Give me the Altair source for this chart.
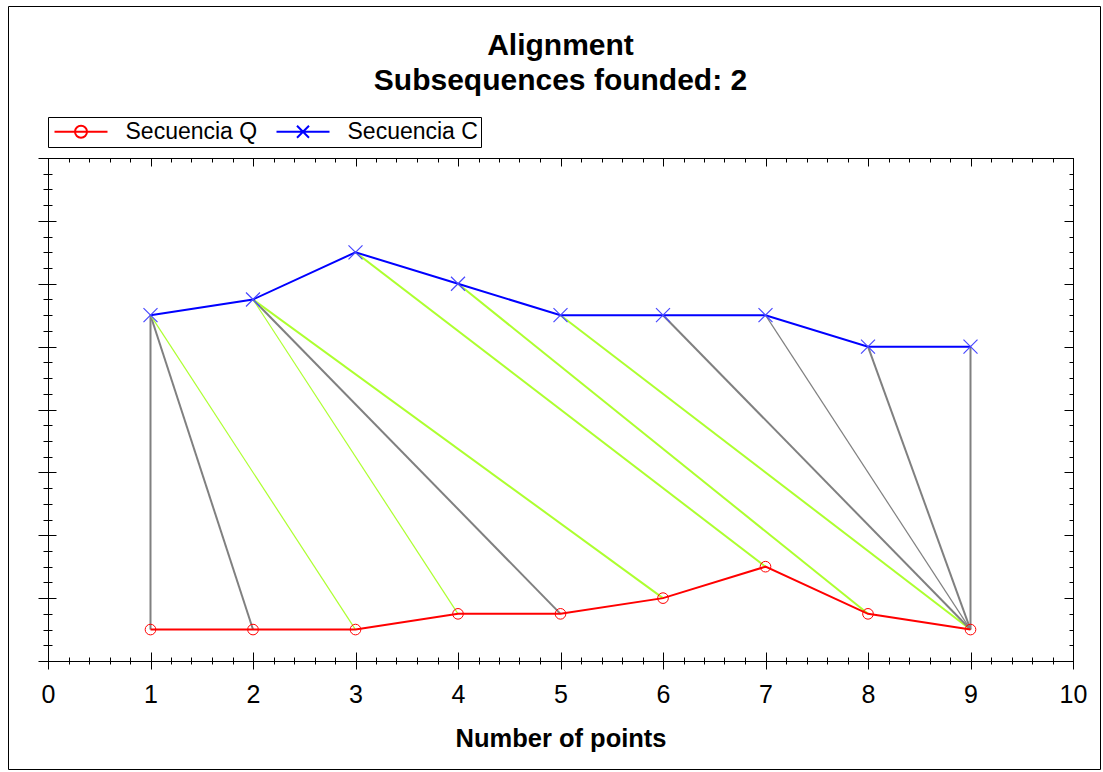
import altair as alt
import pandas as pd

# ---------------- data ----------------
x_points = [1, 2, 3, 4, 5, 6, 7, 8, 9]
q_values = [0.5, 0.5, 0.5, 0.75, 0.75, 1.0, 1.5, 0.75, 0.5]
c_values = [5.5, 5.75, 6.5, 6.0, 5.5, 5.5, 5.5, 5.0, 5.0]
series_names = ["Secuencia Q", "Secuencia C"]

# alignment (warping) pairs: point of C -> point of Q
align_c_idx = [1, 1, 1, 2, 2, 2, 3, 4, 5, 6, 7, 8, 9]
align_q_idx = [1, 2, 3, 4, 5, 6, 7, 8, 9, 9, 9, 9, 9]
align_colors = ["#808080", "#808080", "#adff2f", "#adff2f", "#808080", "#adff2f",
                "#adff2f", "#adff2f", "#adff2f", "#808080", "#808080", "#808080", "#808080"]
align_widths = [2, 2, 1.2, 1.2, 2, 2, 2, 2, 2, 2, 1.2, 2, 2]

x_major = [0, 1, 2, 3, 4, 5, 6, 7, 8, 9, 10]
x_minor = [round(i * 0.2, 1) for i in range(51)]
y_major = [0, 1, 2, 3, 4, 5, 6, 7, 8]
y_minor = [i * 0.25 for i in range(33)]

title_lines = ["Alignment", "Subsequences founded: 2"]
x_title = "Number of points"

# ---------------- tables ----------------
q_df = pd.DataFrame({"x": x_points, "v": q_values, "series": series_names[0]})
c_df = pd.DataFrame({"x": x_points, "v": c_values, "series": series_names[1]})
both_df = pd.concat([q_df, c_df], ignore_index=True)
align_df = pd.DataFrame({
    "x1": align_c_idx,
    "y1": [c_values[i - 1] for i in align_c_idx],
    "x2": align_q_idx,
    "y2": [q_values[i - 1] for i in align_q_idx],
    "col": align_colors,
    "w": align_widths,
})

W, H = 1025, 503
FONT = "Liberation Sans"
xs = alt.Scale(domain=[0, 10], nice=False, zero=False)
ys = alt.Scale(domain=[0, 8], nice=False, zero=False)


def ax(orient, values, size, offset=0, labels=False, title=None, **kw):
    args = dict(orient=orient, values=values, tickSize=size, offset=offset,
                labels=labels, grid=False, domain=False, tickColor="black",
                tickWidth=1, labelFlush=False)
    args["title"] = title
    args.update(kw)
    return alt.Axis(**args)


# x axes
ax_x_bottom_major = ax("bottom", x_major, 8, labels=True, title=x_title,
                       labelFont=FONT, labelFontSize=25, labelColor="black",
                       labelPadding=13, titleFont=FONT, titleFontSize=25.5,
                       titleFontWeight="bold", titleColor="black", titlePadding=19)
ax_x_bottom_minor = ax("bottom", x_minor, 3)
ax_x_bottom_in_major = ax("top", x_major, 9, offset=-H)
ax_x_bottom_in_minor = ax("top", x_minor, 4, offset=-H)
ax_x_top_in_major = ax("bottom", x_major, 8, offset=-H)
ax_x_top_in_minor = ax("bottom", x_minor, 4, offset=-H)
# y axes
ax_y_left_major = ax("left", y_major, 10)
ax_y_left_minor = ax("left", y_minor, 5)
ax_y_left_in_major = ax("right", y_major, 8, offset=-W)
ax_y_left_in_minor = ax("right", y_minor, 4, offset=-W)
ax_y_right_in_major = ax("left", y_major, 9, offset=-W)
ax_y_right_in_minor = ax("left", y_minor, 4, offset=-W)

# ---------------- layers ----------------
frame = alt.Chart(pd.DataFrame({"k": [0]})).mark_rect(
    fillOpacity=0, stroke="black", strokeWidth=1
).encode(x=alt.value(-39.5), x2=alt.value(1052.5), y=alt.value(-151.5), y2=alt.value(611.5))

rules = alt.Chart(align_df).mark_rule().encode(
    x=alt.X("x1:Q", scale=xs, axis=ax_x_bottom_major),
    y=alt.Y("y1:Q", scale=ys, axis=ax_y_left_major),
    x2="x2:Q",
    y2="y2:Q",
    color=alt.Color("col:N", scale=None),
    strokeWidth=alt.StrokeWidth("w:Q", scale=None),
)

line_q = alt.Chart(q_df).mark_line(color="#ff0000", strokeWidth=2).encode(
    x=alt.X("x:Q", scale=xs, axis=ax_x_bottom_minor),
    y=alt.Y("v:Q", scale=ys, axis=ax_y_left_minor),
)
line_c = alt.Chart(c_df).mark_line(color="#0000ff", strokeWidth=2).encode(
    x=alt.X("x:Q", scale=xs, axis=ax_x_bottom_in_major),
    y=alt.Y("v:Q", scale=ys, axis=ax_y_left_in_major),
)

X_PATH = "M-1,-1L1,1M-1,1L1,-1"
mark_q = alt.Chart(q_df).mark_point(shape="circle", size=113, filled=False,
                                    color="#ff0000", strokeWidth=1, opacity=1).encode(
    x=alt.X("x:Q", scale=xs, axis=ax_x_bottom_in_minor),
    y=alt.Y("v:Q", scale=ys, axis=ax_y_left_in_minor),
)
mark_c = alt.Chart(c_df).mark_point(shape=X_PATH, size=196, filled=False,
                                    color="#4848ff", strokeWidth=1.2, opacity=1).encode(
    x=alt.X("x:Q", scale=xs, axis=ax_x_top_in_major),
    y=alt.Y("v:Q", scale=ys, axis=ax_y_right_in_major),
)

LEG_Q = "M-2.65,0H2.65M-0.6,0A0.6,0.6,0,1,1,0.6,0A0.6,0.6,0,1,1,-0.6,0"
LEG_C = "M-2.65,0H2.65M-0.6,-0.6L0.6,0.6M-0.6,0.6L0.6,-0.6"
leg = alt.Legend(orient="none", legendX=0, legendY=-41, direction="horizontal",
                 title=None, strokeColor="black", fillColor="white", padding=3,
                 cornerRadius=0, symbolSize=400, symbolStrokeWidth=2,
                 symbolOffset=18.5, labelOffset=33, labelFont=FONT,
                 labelFontSize=23, labelColor="black", columnPadding=14,
                 labelLimit=400, symbolOpacity=1,
                 labelExpr="datum.label == 'Secuencia C' ? datum.label + '\u00a0\u00a0\u00a0' : datum.label")
legend_layer = alt.Chart(both_df).mark_point(filled=False, opacity=0).encode(
    x=alt.X("x:Q", scale=xs, axis=ax_x_top_in_minor),
    y=alt.Y("v:Q", scale=ys, axis=ax_y_right_in_minor),
    color=alt.Color("series:N", scale=alt.Scale(domain=series_names,
                                                range=["#ff0000", "#0000ff"]), legend=leg),
    shape=alt.Shape("series:N", scale=alt.Scale(domain=series_names,
                                                range=[LEG_Q, LEG_C]), legend=leg),
)

chart = alt.layer(
    frame, rules, line_q, line_c, mark_q, mark_c, legend_layer
).resolve_axis(
    x="independent", y="independent"
).properties(
    width=W,
    height=H,
    padding={"left": 48, "top": 158, "right": 30, "bottom": 111},
    autosize=alt.AutoSizeParams(type="none"),
    background="white",
    title=alt.Title(title_lines, font=FONT, fontSize=30, fontWeight="bold",
                    color="black", anchor="middle", frame="group", offset=-90,
                    lineHeight=35),
).configure_view(stroke="black", strokeWidth=1)

chart.save("out.html", embed_options={"renderer": "svg", "actions": False})
